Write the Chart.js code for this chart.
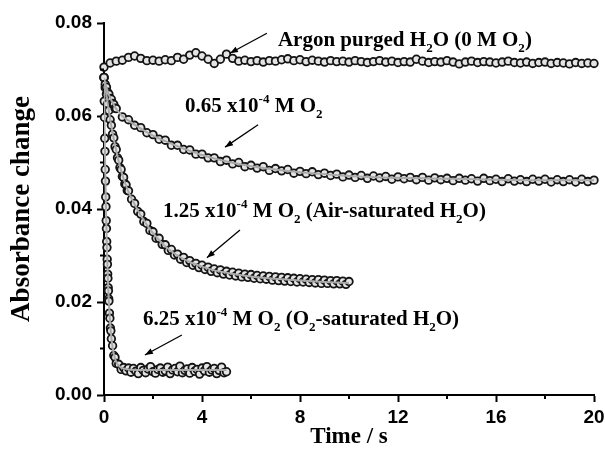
<!DOCTYPE html>
<html lang="en">
<head>
<meta charset="UTF-8">
<title>Absorbance change vs time</title>
<script src="https://cdn.jsdelivr.net/npm/chart.js"></script>
<style>
  body { margin: 0; background: #fff; }
  #wrap { width: 605px; height: 454px; }
</style>
</head>
<body>
<div id="wrap"><canvas id="absChart" width="605" height="454"></canvas></div>
<script>
// --- data (time in s, absorbance change) ---
const timeArgon = [0,0.25,0.5,0.75,1,1.25,1.5,1.75,2,2.25,2.5,2.75,3,3.25,3.5,3.75,4,4.25,4.5,4.75,
  5,5.25,5.5,5.75,6,6.25,6.5,6.75,7,7.25,7.5,7.75,8,8.25,8.5,8.75,9,9.25,9.5,9.75,
  10,10.25,10.5,10.75,11,11.25,11.5,11.75,12,12.25,12.5,12.75,13,13.25,13.5,13.75,14,14.25,14.5,14.75,
  15,15.25,15.5,15.75,16,16.25,16.5,16.75,17,17.25,17.5,17.75,18,18.25,18.5,18.75,19,19.25,19.5,19.75,20];
const argon = [0.0705,0.0714,0.0718,0.0720,0.0726,0.0729,0.0724,0.0719,0.0720,0.0718,
  0.0721,0.0719,0.0726,0.0722,0.0731,0.0736,0.0729,0.0722,0.0713,0.0722,
  0.0733,0.0724,0.0718,0.0720,0.0717,0.0719,0.0716,0.0719,0.0718,0.0721,
  0.0723,0.0719,0.0721,0.0717,0.0720,0.0718,0.0716,0.0719,0.0717,0.0718,
  0.0716,0.0719,0.0717,0.0715,0.0717,0.0719,0.0716,0.0718,0.0715,0.0717,
  0.0716,0.0722,0.0718,0.0715,0.0717,0.0716,0.0719,0.0716,0.0712,0.0716,
  0.0718,0.0715,0.0717,0.0716,0.0714,0.0716,0.0718,0.0715,0.0714,0.0716,
  0.0713,0.0715,0.0716,0.0713,0.0715,0.0714,0.0712,0.0715,0.0713,0.0714,0.0713];

const time065 = [0,0.05,0.1,0.15,0.2,0.25,0.3,0.35,0.4,0.45,0.5,
  0.75,1,1.25,1.5,1.75,2,2.25,2.5,2.75,3,3.25,3.5,3.75,4,4.25,4.5,4.75,
  5,5.25,5.5,5.75,6,6.25,6.5,6.75,7,7.25,7.5,7.75,8,8.25,8.5,8.75,9,9.25,9.5,9.75,
  10,10.25,10.5,10.75,11,11.25,11.5,11.75,12,12.25,12.5,12.75,13,13.25,13.5,13.75,14,14.25,14.5,14.75,
  15,15.25,15.5,15.75,16,16.25,16.5,16.75,17,17.25,17.5,17.75,18,18.25,18.5,18.75,19,19.25,19.5,19.75,20];
const o2_065 = [0.0683,0.0668,0.0662,0.0651,0.0647,0.0638,0.0636,0.0627,0.0625,0.0617,0.0616,
  0.0598,0.0592,0.0580,0.0575,0.0564,0.0560,0.0550,0.0548,0.0537,0.0537,0.0528,0.0527,0.0518,0.0518,0.0510,0.0510,0.0502,
  0.0505,0.0497,0.0500,0.0491,0.0494,0.0488,0.0491,0.0483,0.0487,0.0482,0.0485,0.0477,0.0481,0.0476,0.0480,0.0474,0.0477,0.0472,0.0475,0.0469,
  0.0473,0.0468,0.0472,0.0466,0.0471,0.0467,0.0470,0.0464,0.0469,0.0465,0.0468,0.0463,0.0468,0.0462,0.0467,0.0463,0.0466,0.0461,0.0466,0.0462,
  0.0465,0.0460,0.0466,0.0461,0.0464,0.0459,0.0465,0.0460,0.0463,0.0459,0.0464,0.0460,0.0464,0.0458,0.0463,0.0459,0.0463,0.0458,0.0464,0.0459,0.0462];
const fitTime065 = [0,0.1,0.2,0.3,0.5,0.75,1,1.5,2,2.5,3,3.5,4,5,6,7,8,9,10,12,14,16,18,20];
const fit065 = [0.068,0.0661,0.0646,0.0634,0.0615,0.0600,0.0590,0.0573,0.0558,0.0546,0.0535,0.0525,0.0516,
  0.0502,0.0492,0.0485,0.0479,0.0475,0.0471,0.0467,0.0465,0.0463,0.0462,0.0462];

const time125 = [0,0.05,0.1,0.15,0.2,0.25,0.3,0.35,0.4,0.45,0.5,0.55,0.6,0.65,0.7,0.75,0.8,0.85,0.9,0.95,1,
  1.125,1.25,1.375,1.5,1.625,1.75,1.875,2,2.125,2.25,2.375,2.5,2.625,2.75,2.875,3,
  3.125,3.25,3.375,3.5,3.625,3.75,3.875,4,4.125,4.25,4.375,4.5,4.625,4.75,4.875,5,
  5.125,5.25,5.375,5.5,5.625,5.75,5.875,6,6.125,6.25,6.375,6.5,6.625,6.75,6.875,7,
  7.125,7.25,7.375,7.5,7.625,7.75,7.875,8,8.125,8.25,8.375,8.5,8.625,8.75,8.875,9,
  9.125,9.25,9.375,9.5,9.625,9.75,9.875,10];
const o2_125 = [0.0682,0.0661,0.0647,0.0626,0.0612,0.0592,0.0580,0.0561,0.0553,0.0534,0.0528,0.0510,0.0505,0.0489,0.0485,0.0470,0.0468,0.0454,0.0452,0.0440,0.0439,
  0.0421,0.0412,0.0395,0.0389,0.0373,0.0369,0.0354,0.0351,0.0337,0.0337,0.0324,0.0323,0.0311,0.0313,0.0301,0.0303,
  0.0292,0.0296,0.0285,0.0289,0.0279,0.0283,0.0274,0.0279,0.0270,0.0275,0.0266,0.0271,0.0263,0.0269,0.0260,0.0266,
  0.0258,0.0264,0.0256,0.0262,0.0254,0.0260,0.0253,0.0259,0.0251,0.0257,0.0250,0.0256,0.0249,0.0255,0.0247,0.0254,
  0.0246,0.0253,0.0245,0.0252,0.0244,0.0251,0.0243,0.0250,0.0243,0.0249,0.0242,0.0248,0.0241,0.0248,0.0240,0.0247,
  0.0240,0.0246,0.0239,0.0246,0.0239,0.0245,0.0238,0.0244];
const fitTime125 = [0,0.1,0.2,0.3,0.4,0.5,0.6,0.7,0.8,0.9,1,1.25,1.5,1.75,2,2.5,3,3.5,4,4.5,5,6,7,8,9,10];
const fit125 = [0.068,0.0645,0.0610,0.0578,0.0550,0.0525,0.0502,0.0482,0.0465,0.0450,0.0437,0.0410,0.0386,0.0366,
  0.0348,0.0320,0.0300,0.0286,0.0276,0.0268,0.0263,0.0255,0.0250,0.0246,0.0243,0.0241];

const time625 = [0,0.01,0.02,0.03,0.04,0.05,0.06,0.07,0.08,0.09,0.1,0.11,0.12,0.13,0.14,0.15,0.16,0.17,0.18,0.19,0.2,
  0.22,0.24,0.26,0.28,0.3,0.35,0.4,0.45,0.5,0.6,0.7,0.8,0.9,1,
  1.1,1.2,1.3,1.4,1.5,1.6,1.7,1.8,1.9,2,2.1,2.2,2.3,2.4,2.5,2.6,2.7,2.8,2.9,3,
  3.1,3.2,3.3,3.4,3.5,3.6,3.7,3.8,3.9,4,4.1,4.2,4.3,4.4,4.5,4.6,4.7,4.8,4.9,5];
const o2_625 = [0.0683,0.0632,0.0597,0.0552,0.0524,0.0485,0.0460,0.0426,0.0405,0.0375,0.0358,0.0330,0.0317,0.0292,0.0281,0.0260,0.0251,0.0231,0.0224,0.0207,0.0202,
  0.0176,0.0165,0.0144,0.0138,0.0121,0.0106,0.0085,0.0081,0.0068,0.0066,0.0055,0.0059,0.0052,0.0058,
  0.0049,0.0057,0.0051,0.0046,0.0059,0.0053,0.0048,0.0056,0.0061,0.0050,0.0047,0.0055,0.0058,0.0049,0.0052,0.0060,0.0046,0.0054,0.0057,0.0050,
  0.0062,0.0048,0.0053,0.0056,0.0047,0.0059,0.0051,0.0055,0.0045,0.0058,0.0052,0.0061,0.0049,0.0054,0.0057,0.0046,0.0053,0.0060,0.0048,0.0050];
const fitTime625 = [0,0.02,0.04,0.06,0.08,0.1,0.12,0.14,0.16,0.18,0.2,0.25,0.3,0.35,0.4,0.5,0.6,0.7,0.8,1,1.5,2,3,4,5];
const fit625 = [0.068,0.0594,0.0521,0.0457,0.0402,0.0355,0.0314,0.0278,0.0248,0.0221,0.0199,0.0155,0.0124,0.0103,
  0.0088,0.0071,0.0063,0.0059,0.0057,0.0055,0.0054,0.0054,0.0054,0.0054,0.0054];

const xMinor = [2, 6, 10, 14, 18];
const yMinor = [0.01, 0.03, 0.05, 0.07];

// annotation labels, anchored in data units
const notes = [
  { parts: [{t:'Argon purged H'},{t:'2',sub:1},{t:'O (0 M O'},{t:'2',sub:1},{t:')'}],
    at: [7.1, 0.0751], arrow: [6.65, 0.0778, 5.14, 0.0735] },
  { parts: [{t:'0.65 x10'},{t:'-4',sup:1},{t:' M O'},{t:'2',sub:1}],
    at: [3.31, 0.0609], arrow: [6.29, 0.0581, 4.94, 0.0533] },
  { parts: [{t:'1.25 x10'},{t:'-4',sup:1},{t:' M O'},{t:'2',sub:1},{t:' (Air-saturated H'},{t:'2',sub:1},{t:'O)'}],
    at: [2.41, 0.0383], arrow: [5.55, 0.0355, 4.2, 0.0295] },
  { parts: [{t:'6.25 x10'},{t:'-4',sup:1},{t:' M O'},{t:'2',sub:1},{t:' (O'},{t:'2',sub:1},{t:'-saturated H'},{t:'2',sub:1},{t:'O)'}],
    at: [1.59, 0.0151], arrow: [3.18, 0.0129, 1.67, 0.0086] }
];

function pts(xs, ys) {
  return xs.map((x, i) => ({ x: x, y: ys[i] }));
}

const serif = '"Liberation Serif", "Times New Roman", serif';
const sans = '"Liberation Sans", Arial, sans-serif';

function marker(data) {
  return {
    data: data, showLine: false, order: 1, clip: false,
    pointRadius: 3.8, pointBorderWidth: 1.8,
    pointBorderColor: '#141414', pointBackgroundColor: '#e4e4e4'
  };
}
function fit(data) {
  return {
    type: 'line', data: data, showLine: true, order: 0,
    borderColor: '#a9a9a9', borderWidth: 2, pointRadius: 0,
    cubicInterpolationMode: 'monotone', fill: false
  };
}

function drawRich(ctx, parts, x, y, size) {
  let cx = x;
  parts.forEach(p => {
    const s = (p.sub || p.sup) ? size * 0.62 : size;
    ctx.font = 'bold ' + s + 'px ' + serif;
    const dy = p.sub ? size * 0.3 : (p.sup ? -size * 0.42 : 0);
    ctx.fillText(p.t, cx, y + dy);
    cx += ctx.measureText(p.t).width;
  });
}

function arrow(ctx, x1, y1, x2, y2) {
  ctx.beginPath();
  ctx.moveTo(x1, y1);
  ctx.lineTo(x2, y2);
  ctx.stroke();
  const a = Math.atan2(y2 - y1, x2 - x1), L = 8, W = 3;
  ctx.beginPath();
  ctx.moveTo(x2, y2);
  ctx.lineTo(x2 - L * Math.cos(a) + W * Math.sin(a), y2 - L * Math.sin(a) - W * Math.cos(a));
  ctx.lineTo(x2 - L * Math.cos(a) - W * Math.sin(a), y2 - L * Math.sin(a) + W * Math.cos(a));
  ctx.closePath();
  ctx.fill();
}

// minor ticks and the text labels with arrows
const extras = {
  id: 'extras',
  afterDraw(chart) {
    const ctx = chart.ctx, xs = chart.scales.x, ys = chart.scales.y;
    const area = chart.chartArea;
    ctx.save();
    ctx.strokeStyle = '#000';
    ctx.fillStyle = '#000';
    ctx.lineWidth = 2;
    xMinor.forEach(v => {
      const px = xs.getPixelForValue(v);
      ctx.beginPath(); ctx.moveTo(px, area.bottom); ctx.lineTo(px, area.bottom + 4); ctx.stroke();
    });
    yMinor.forEach(v => {
      const py = ys.getPixelForValue(v);
      ctx.beginPath(); ctx.moveTo(area.left, py); ctx.lineTo(area.left - 4, py); ctx.stroke();
    });
    ctx.lineWidth = 1.3;
    ctx.textBaseline = 'alphabetic';
    ctx.textAlign = 'left';
    notes.forEach(n => {
      drawRich(ctx, n.parts, xs.getPixelForValue(n.at[0]), ys.getPixelForValue(n.at[1]), 21);
      arrow(ctx, xs.getPixelForValue(n.arrow[0]), ys.getPixelForValue(n.arrow[1]),
                 xs.getPixelForValue(n.arrow[2]), ys.getPixelForValue(n.arrow[3]));
    });
    ctx.restore();
  }
};

new Chart(document.getElementById('absChart'), {
  type: 'scatter',
  data: {
    datasets: [
      marker(pts(timeArgon, argon)),
      marker(pts(time065, o2_065)),
      marker(pts(time125, o2_125)),
      marker(pts(time625, o2_625)),
      fit(pts(fitTime065, fit065)),
      fit(pts(fitTime125, fit125)),
      fit(pts(fitTime625, fit625))
    ]
  },
  options: {
    responsive: false,
    animation: false,
    events: [],
    layout: { padding: { left: 0, top: 23, right: 11, bottom: 0 } },
    plugins: { legend: { display: false }, tooltip: { enabled: false } },
    scales: {
      x: {
        type: 'linear', position: 'bottom', min: 0, max: 20,
        ticks: { stepSize: 4, color: '#000', padding: 4, maxRotation: 0,
                 font: { family: sans, size: 19, weight: 'bold' } },
        grid: { drawOnChartArea: false, drawTicks: true, tickLength: 7, tickWidth: 2, tickColor: '#000' },
        border: { display: true, color: '#000', width: 2 },
        title: { display: true, text: 'Time / s', color: '#000', padding: { top: 0, bottom: 3 },
                 font: { family: serif, size: 23, weight: 'bold' } },
        afterFit: s => { s.height = 59; s.paddingRight = 0; s.paddingLeft = 0; }
      },
      y: {
        type: 'linear', min: 0, max: 0.08,
        ticks: { stepSize: 0.02, color: '#000', padding: 5,
                 callback: v => v.toFixed(2),
                 font: { family: sans, size: 19, weight: 'bold' } },
        grid: { drawOnChartArea: false, drawTicks: true, tickLength: 7, tickWidth: 2, tickColor: '#000' },
        border: { display: true, color: '#000', width: 2 },
        title: { display: true, text: 'Absorbance change', color: '#000', padding: { top: 6, bottom: 0 },
                 font: { family: serif, size: 27, weight: 'bold' } },
        afterFit: s => { s.width = 104; s.paddingTop = 0; s.paddingBottom = 0; }
      }
    }
  },
  plugins: [extras]
});
</script>
</body>
</html>
